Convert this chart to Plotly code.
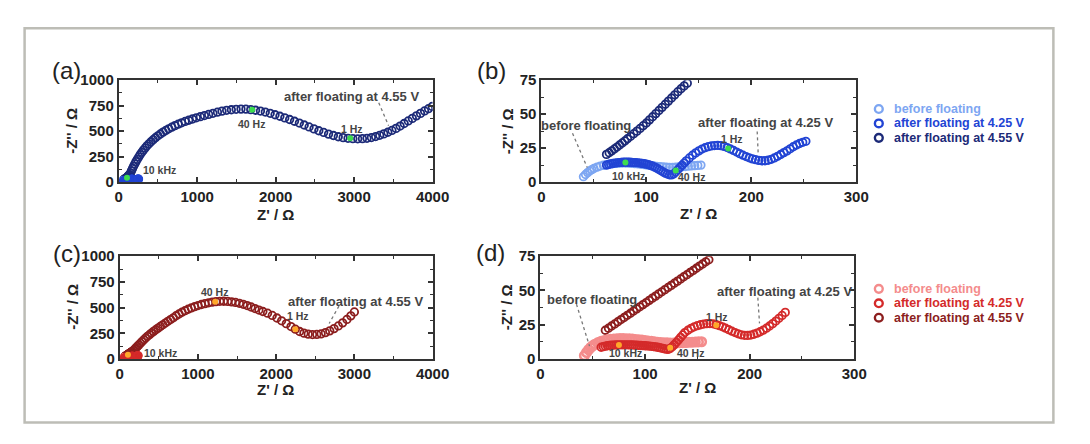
import plotly.graph_objects as go

# ---------------- data ----------------
# Blue set (panels a, b) : Nyquist points (Z', -Z'')
blue_before = [(40,4),(42,5.6),(44,7),(46,8.2),(48,9.2),(50,10),(53,11),(56,11.8),(59,12.4),(62,12.9),
               (65,13.3),(68,13.6),(71,13.8),(74,13.9),(77,14),(80,14),(83,13.9),(86,13.8),(89,13.6),(92,13.4),
               (95,13.1),(98,12.8),(101,12.5),(104,12.2),(107,11.9),(110,11.6),(113,11.4),(116,11.2),(119,11),(122,10.9),
               (125,10.9),(128,11),(131,11.1),(134,11.3),(137,11.5),(140,11.7),(143,11.9),(146,12.1),(149,12.3),(152,12.5)]

blue_425 = [(62,12.5),(64,13),(66,13.4),(68,13.7),(70,14),(72,14.2),(74,14.4),(76,14.5),(78,14.6),(80,14.6),
            (82,14.6),(84,14.6),(86,14.5),(88,14.4),(90,14.3),(92,14.2),(94,14),(96,13.8),(98,13.5),(100,13.2),
            (102,12.8),(104,12.3),(106,11.7),(108,11),(110,10.2),(112,9.3),(114,8.4),(116,7.5),(118,6.6),(120,5.9),
            (122,5.4),(124,5.3),(126,6),(128,7.4),(130,9.1),(132,10.8),(134,12.4),(136,14),(138,15.6),(141,17.8),
            (144,19.8),(147,21.5),(150,23),(153,24.3),(156,25.3),(159,26.1),(162,26.6),(165,26.9),(168,27),(171,26.8),
            (174,26.3),(177,25.4),(180,24.4),(183,23.3),(186,22.1),(189,20.9),(192,19.8),(195,18.8),(198,17.9),(201,17.1),
            (204,16.5),(207,16),(210,15.7),(213,15.7),(216,16.1),(219,16.8),(222,17.8),(225,19),(228,20.3),(231,21.7),
            (234,23),(237,24.5),(240,26),(243,27.3),(246,28.4),(249,29.3),(252,30)]

blue_455 = [(62,20.4),(64.5,21.6),(67,23),(69.5,24.4),(72,25.8),(74.5,27.3),(77,28.8),(79.5,30.3),(82,31.9),(85,33.7),
            (88,35.6),(91,37.5),(94,39.5),(97,41.5),(100,43.5),(103,45.8),(106,48.1),(109,50.4),(112,52.7),(115,55),
            (118,57.3),(121,59.6),(124,61.9),(127,64.2),(130,66.5),(133,68.7),(136,70.8),(139,72.8),
            (150,90),(162,110),(175,132),(189,155),(204,178),(220,201),(237,224),(255,247),(274,270),(294,292),
            (315,314),(337,335),(360,356),(385,376),(411,396),(439,416),(468,435),(499,454),(531,472),(565,490),
            (600,507),(637,523),(676,539),(716,554),(758,568),(801,582),(846,595),(892,607),(940,619),(989,631),
            (1040,642),(1092,653),(1146,664),(1201,675),(1258,686),(1316,696),(1375,704),(1435,710),(1496,714),(1558,716),
            (1620,715),(1682,711),(1744,705),(1806,697),(1868,687),(1930,675),(1992,661),(2054,646),(2116,630),(2178,614),
            (2240,597),(2302,579),(2364,560),(2426,541),(2488,522),(2550,504),(2612,487),(2674,471),(2736,457),(2798,445),
            (2860,436),(2922,430),(2984,426),(3046,425),(3106,426),(3164,430),(3220,437),(3274,447),(3326,459),(3378,473),
            (3430,489),(3482,507),(3534,527),(3586,550),(3638,575),(3690,600),(3742,625),(3794,650),(3846,674),(3898,698),
            (3948,720),(3995,742)]

# Red set (panels c, d)
red_before = [(42,2.5),(44,4.8),(46,6.8),(48,8.4),(50,9.7),(52,10.8),(55,12),(58,12.9),(61,13.5),(64,14),
              (67,14.4),(70,14.6),(73,14.8),(76,14.9),(79,14.9),(82,14.8),(85,14.7),(88,14.5),(91,14.3),(94,14.1),
              (97,13.8),(100,13.5),(103,13.2),(106,12.9),(109,12.6),(112,12.3),(115,12.1),(118,11.9),(121,11.8),(124,11.7),
              (127,11.7),(130,11.8),(133,11.9),(136,12),(139,12.1),(142,12.2),(145,12.3),(148,12.4),(151,12.5),(154,12.6)]

red_425 = [(58,8.6),(60,9),(62,9.4),(64,9.7),(66,9.9),(68,10.1),(70,10.2),(72,10.3),(74,10.4),(76,10.4),
           (78,10.4),(80,10.4),(82,10.4),(84,10.4),(86,10.3),(88,10.3),(90,10.2),(92,10.1),(94,10),(96,9.9),
           (98,9.8),(100,9.7),(102,9.6),(104,9.5),(106,9.3),(108,9.1),(110,8.9),(112,8.6),(114,8.3),(116,8),
           (118,7.6),(120,7.2),(122,7),(124,7.8),(126,9),(128,10.5),(130,12.2),(132,14),(134,15.8),(136,17.6),
           (138,19.3),(141,21),(144,22.4),(147,23.5),(150,24.4),(153,25),(156,25.5),(159,25.8),(162,25.9),(165,25.7),
           (168,25.1),(171,24.4),(174,23.5),(177,22.5),(180,21.4),(183,20.3),(186,19.3),(189,18.4),(192,17.7),(195,17.3),
           (198,17.2),(201,17.5),(204,18.1),(207,18.9),(210,19.9),(213,21.1),(216,22.5),(219,24.1),(222,25.8),(225,27.7),
           (228,29.7),(231,31.8),(234,34)]

red_455 = [(62,21),(65,22.5),(68,24.1),(71,25.6),(74,27.2),(77,28.8),(80,30.3),(83,31.9),(86,33.4),(89,35),
           (92,36.6),(95,38.1),(98,39.7),(101,41.2),(104,42.8),(107,44.4),(110,45.9),(113,47.5),(116,49),(119,50.6),
           (122,52.2),(125,53.7),(128,55.3),(131,56.8),(134,58.4),(137,60),(140,61.5),(143,63.1),(146,64.6),(149,66.2),
           (152,67.8),(155,69.3),(158,70.9),(161,72.4),
           (175,84),(191,96),(208,109),(226,123),(245,138),(265,154),(286,170),(308,187),(331,204),(355,221),
           (380,237),(406,253),(433,269),(461,285),(490,301),(520,317),(551,333),(583,350),(616,367),(650,384),
           (685,401),(721,421),(758,438),(796,455),(835,470),(875,484),(916,497),(958,509),(1001,520),(1045,530),
           (1090,539),(1136,547),(1183,553),(1231,558),(1280,561),(1330,562),(1380,560),(1430,556),(1480,550),(1530,542),
           (1580,532),(1630,520),(1680,506),(1730,491),(1780,476),(1830,462),(1890,446),(1950,424),(2010,399),(2070,372),
           (2130,344),(2190,316),(2245,290),(2300,268),(2355,252),(2410,242),(2465,238),(2520,239),(2575,245),(2630,257),
           (2685,274),(2740,296),(2795,322),(2850,352),(2905,385),(2955,420),(3000,458)]

# highlighted frequency points (10 kHz, 40 Hz, 1 Hz)
freq_a = [(105,43),(1700,709),(2950,430)]
freq_b = [(80,14.5),(128,8.5),(178,24.8)]
freq_c = [(105,43),(1220,556),(2245,290)]
freq_d = [(75,10.2),(124,8.2),(168,24.6)]

series_names = ["before floating", "after floating at 4.25 V", "after floating at 4.55 V"]
blue_colors = ["#7da6f2", "#2244d4", "#1c2a78"]
red_colors = ["#f48c8c", "#d42a2a", "#8c1e1e"]

# ---------------- figure ----------------
W, H = 1090, 444
def px(x): return x / W
def py(y): return 1 - y / H

fig = go.Figure()

def xs(p): return [a for a, b in p]
def ys(p): return [b for a, b in p]

def add_series(data, color, name, xa, ya, size=7.5, lw=1.8):
    fig.add_trace(go.Scatter(
        x=xs(data), y=ys(data), mode="markers", xaxis=xa, yaxis=ya, name=name,
        marker=dict(symbol="circle-open", size=size, color=color, line=dict(width=lw, color=color)),
        showlegend=False))

def add_freq(data, color, xa, ya):
    fig.add_trace(go.Scatter(x=xs(data), y=ys(data), mode="markers", xaxis=xa, yaxis=ya,
                             marker=dict(symbol="circle", size=6, color=color), showlegend=False))

# panel a
add_series(blue_455, blue_colors[2], series_names[2], "x", "y")
add_series(blue_before, blue_colors[0], series_names[0], "x", "y")
add_series(blue_425, blue_colors[1], series_names[1], "x", "y")
add_freq(freq_a, "#3ddc4f", "x", "y")
# panel b
add_series(blue_455, blue_colors[2], series_names[2], "x2", "y2")
add_series(blue_before, blue_colors[0], series_names[0], "x2", "y2")
add_series(blue_425, blue_colors[1], series_names[1], "x2", "y2")
add_freq(freq_b, "#3ddc4f", "x2", "y2")
# panel c
add_series(red_455, red_colors[2], series_names[2], "x3", "y3")
add_series(red_before, red_colors[0], series_names[0], "x3", "y3")
add_series(red_425, red_colors[1], series_names[1], "x3", "y3")
add_freq(freq_c, "#ffa82a", "x3", "y3")
# panel d
add_series(red_455, red_colors[2], series_names[2], "x4", "y4")
add_series(red_before, red_colors[0], series_names[0], "x4", "y4", size=8.5, lw=2.6)
add_series(red_425, red_colors[1], series_names[1], "x4", "y4")
add_freq(freq_d, "#ffa82a", "x4", "y4")

FONT = "Liberation Sans, Arial, sans-serif"
AX = "#333333"

def axis(domain, rng, dtick, minor, anchor):
    return dict(domain=domain, range=rng, dtick=dtick, tick0=0, anchor=anchor,
                ticks="inside", ticklen=5, tickwidth=1.5, tickcolor=AX,
                minor=dict(dtick=minor, tick0=0, ticks="inside", ticklen=3, tickwidth=1.2, tickcolor=AX),
                showline=True, linewidth=2, linecolor=AX, mirror="ticks",
                showgrid=False, zeroline=False,
                tickfont=dict(family=FONT, size=15, color="#222", weight="bold"))

xa_dom = [px(117), px(437)]
xb_dom = [px(548), px(869)]
xc_dom = [px(118), px(437)]
xd_dom = [px(547), px(867)]
yab_dom = [py(180), py(74)]
ycd_dom = [py(364), py(257)]

fig.update_layout(
    width=W, height=H, margin=dict(l=0, r=0, t=0, b=0),
    paper_bgcolor="white", plot_bgcolor="white", showlegend=False,
    xaxis=axis(xa_dom, [0, 4000], 1000, 500, "y"),
    yaxis=axis(yab_dom, [0, 1000], 250, 125, "x"),
    xaxis2=axis(xb_dom, [0, 300], 100, 50, "y2"),
    yaxis2=axis(yab_dom, [0, 75], 25, 12.5, "x2"),
    xaxis3=axis(xc_dom, [0, 4000], 1000, 500, "y3"),
    yaxis3=axis(ycd_dom, [0, 1000], 250, 125, "x3"),
    xaxis4=axis(xd_dom, [0, 300], 100, 50, "y4"),
    yaxis4=axis(ycd_dom, [0, 75], 25, 12.5, "x4"),
)

# outer frame
fig.add_shape(type="rect", xref="paper", yref="paper", x0=px(21), x1=px(1070), y0=py(430), y1=py(20),
              line=dict(color="#bdbdb6", width=2.5))

def ann(text, x, y, xref="paper", yref="paper", size=11, bold=True, color="#444", angle=0, xanchor="center"):
    fig.add_annotation(text=f"<b>{text}</b>" if bold else text, x=x, y=y, xref=xref, yref=yref,
                       showarrow=False, textangle=angle, xanchor=xanchor, yanchor="middle",
                       font=dict(family=FONT, size=size, color=color))

# legends (keys drawn as open circles + coloured labels)
for colors, rows in [(blue_colors, [104, 119, 134]), (red_colors, [291, 306, 321])]:
    for name, col, yy in zip(series_names, colors, rows):
        fig.add_shape(type="circle", xref="paper", yref="paper",
                      x0=px(888), x1=px(896), y0=py(yy + 4), y1=py(yy - 4),
                      line=dict(color=col, width=2.4))
        ann(name, px(905), py(yy), size=12.5, color=col, xanchor="left")

# panel labels
for lab, x, y in [("(a)", 64, 64), ("(b)", 497, 64), ("(c)", 64, 254), ("(d)", 496, 253)]:
    ann(lab, px(x), py(y), size=24, bold=False, color="#222")
# axis titles
for x, y in [(277, 214), (708, 213), (277, 396), (707, 394)]:
    ann("Z' / Ω", px(x), py(y), size=15, color="#222")
for x, y in [(68, 127), (513, 127), (69, 310), (512, 310)]:
    ann("-Z'' / Ω", px(x), py(y), size=15, color="#222", angle=-90)

# in-plot labels
ann("after floating at 4.55 V", 2970, 844, "x", "y", size=13)
ann("40 Hz", 1694, 569, "x", "y", size=10.5)
ann("1 Hz", 2970, 522, "x", "y", size=10.5)
ann("10 kHz", 523, 116, "x", "y", size=10.5)

ann("before floating", 42.7, 42, "x2", "y2", size=13)
ann("after floating at 4.25 V", 213.4, 43.8, "x2", "y2", size=13)
ann("1 Hz", 182, 31.7, "x2", "y2", size=10.5)
ann("10 kHz", 82.5, 4.8, "x2", "y2", size=10.5)
ann("40 Hz", 143.3, 3.6, "x2", "y2", size=10.5)

ann("after floating at 4.55 V", 3012, 562, "x3", "y3", size=13)
ann("40 Hz", 1213, 654, "x3", "y3", size=10.5)
ann("1 Hz", 2280, 414, "x3", "y3", size=10.5)
ann("10 kHz", 523, 62, "x3", "y3", size=10.5)

ann("before floating", 49.4, 43.6, "x4", "y4", size=13)
ann("after floating at 4.25 V", 233.7, 49.5, "x4", "y4", size=13)
ann("1 Hz", 168.8, 31, "x4", "y4", size=10.5)
ann("10 kHz", 81, 4.7, "x4", "y4", size=10.5)
ann("40 Hz", 143.8, 4.2, "x4", "y4", size=10.5)

# dotted leader lines
for (x0, y0, x1, y1, xr, yr) in [(3314, 778, 3439, 553, "x", "y"),
                                  (29.6, 36, 43.6, 10.8, "x2", "y2"),
                                  (205.6, 37.3, 206.5, 21.6, "x2", "y2"),
                                  (2803, 515, 2678, 346, "x3", "y3"),
                                  (34.4, 40, 46.9, 9.4, "x4", "y4"),
                                  (207.8, 44.8, 209.4, 26, "x4", "y4")]:
    fig.add_shape(type="line", xref=xr, yref=yr, x0=x0, y0=y0, x1=x1, y1=y1,
                  line=dict(color="#777", width=1.3, dash="dot"))

fig.write_html("out.html")
